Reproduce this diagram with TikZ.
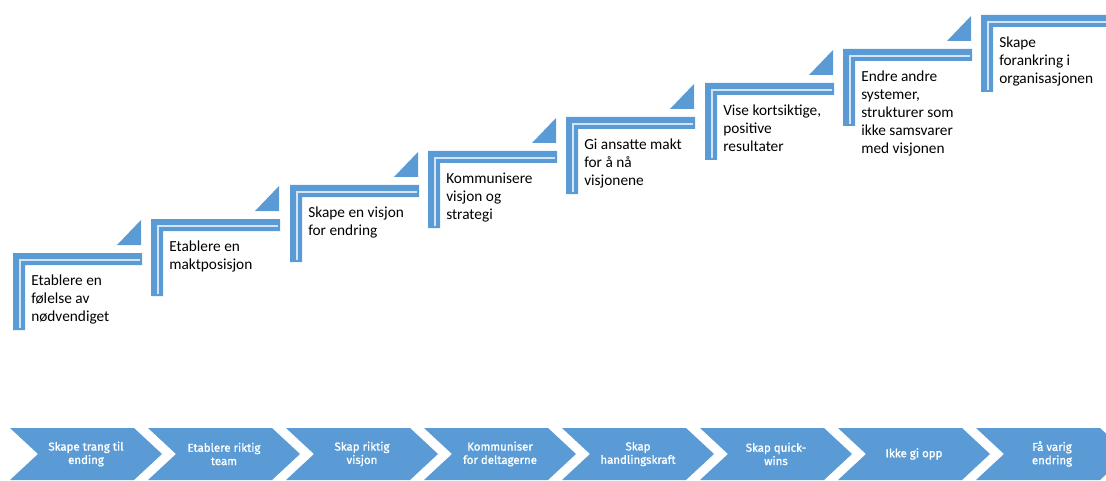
\documentclass[tikz,border=0pt]{standalone}
\usepackage{fontspec}
\setmainfont{Carlito}
\newfontfamily\pilfont[FakeBold=1.2]{Fira Sans}
\definecolor{trinnblaa}{HTML}{5B9BD5}
\definecolor{trinnlys}{HTML}{D2E4F5}
\definecolor{pilblaa}{HTML}{5B9BD5}

\begin{document}
\begin{tikzpicture}[x=0.75pt,y=-0.75pt]
\tikzstyle{trinn}=[fill=trinnblaa]
\tikzstyle{lys}=[draw=trinnlys,line width=2pt,line join=miter]
\tikzstyle{tekst}=[anchor=north west,inner sep=0pt,align=left,font=\fontsize{11.5pt}{13.5pt}\selectfont]
\tikzstyle{pil}=[fill=pilblaa]
\tikzstyle{piltekst}=[text=white,inner sep=0pt,align=center,font=\pilfont\fontsize{8.6pt}{10pt}\selectfont]
	\useasboundingbox (0,0) rectangle (1106,481);

	% trappetrinn
	\fill[trinn] (13,253) -- ++(129,0) -- ++(0,12) -- ++(-117,0) -- ++(0,65) -- ++(-12,0) -- cycle;
	\draw[lys] (20,328) -- ++(0,-68) -- ++(120,0);
	\fill[trinn] (117,245) -- ++(24,0) -- ++(0,-25) -- cycle;

	\fill[trinn] (151,219) -- ++(129,0) -- ++(0,12) -- ++(-117,0) -- ++(0,65) -- ++(-12,0) -- cycle;
	\draw[lys] (158,294) -- ++(0,-68) -- ++(120,0);
	\fill[trinn] (255,211) -- ++(24,0) -- ++(0,-25) -- cycle;

	\fill[trinn] (290,185) -- ++(129,0) -- ++(0,12) -- ++(-117,0) -- ++(0,65) -- ++(-12,0) -- cycle;
	\draw[lys] (297,260) -- ++(0,-68) -- ++(120,0);
	\fill[trinn] (394,177) -- ++(24,0) -- ++(0,-25) -- cycle;

	\fill[trinn] (428,151) -- ++(129,0) -- ++(0,12) -- ++(-117,0) -- ++(0,65) -- ++(-12,0) -- cycle;
	\draw[lys] (435,226) -- ++(0,-68) -- ++(120,0);
	\fill[trinn] (532,143) -- ++(24,0) -- ++(0,-25) -- cycle;

	\fill[trinn] (566,117) -- ++(129,0) -- ++(0,12) -- ++(-117,0) -- ++(0,65) -- ++(-12,0) -- cycle;
	\draw[lys] (573,192) -- ++(0,-68) -- ++(120,0);
	\fill[trinn] (670,109) -- ++(24,0) -- ++(0,-25) -- cycle;

	\fill[trinn] (705,83) -- ++(129,0) -- ++(0,12) -- ++(-117,0) -- ++(0,65) -- ++(-12,0) -- cycle;
	\draw[lys] (712,158) -- ++(0,-68) -- ++(120,0);
	\fill[trinn] (809,75) -- ++(24,0) -- ++(0,-25) -- cycle;

	\fill[trinn] (843,49) -- ++(129,0) -- ++(0,12) -- ++(-117,0) -- ++(0,65) -- ++(-12,0) -- cycle;
	\draw[lys] (850,124) -- ++(0,-68) -- ++(120,0);
	\fill[trinn] (947,41) -- ++(24,0) -- ++(0,-25) -- cycle;

	\fill[trinn] (981,15) -- ++(129,0) -- ++(0,12) -- ++(-117,0) -- ++(0,65) -- ++(-12,0) -- cycle;
	\draw[lys] (988,90) -- ++(0,-68) -- ++(120,0);

	\node[tekst] (s1) at (31,275) {Etablere en\\følelse av\\nødvendiget};
	\node[tekst] (s2) at (169,241) {Etablere en\\maktposisjon};
	\node[tekst] (s3) at (308,207) {Skape en visjon\\for endring};
	\node[tekst] (s4) at (446,173) {Kommunisere\\visjon og\\strategi};
	\node[tekst] (s5) at (584,139) {Gi ansatte makt\\for å nå\\visjonene};
	\node[tekst] (s6) at (723,105) {Vise kortsiktige,\\positive\\resultater};
	\node[tekst] (s7) at (861,71) {Endre andre\\systemer,\\strukturer som\\ikke samsvarer\\med visjonen};
	\node[tekst] (s8) at (999,37) {Skape\\forankring i\\organisasjonen};

	% piler nederst
	\fill[pil] (10,428) -- ++(124,0) -- ++(28,26) -- ++(-28,26) -- ++(-124,0) -- ++(28,-26) -- cycle;
	\fill[pil] (148,428) -- ++(124,0) -- ++(28,26) -- ++(-28,26) -- ++(-124,0) -- ++(28,-26) -- cycle;
	\fill[pil] (286,428) -- ++(124,0) -- ++(28,26) -- ++(-28,26) -- ++(-124,0) -- ++(28,-26) -- cycle;
	\fill[pil] (424,428) -- ++(124,0) -- ++(28,26) -- ++(-28,26) -- ++(-124,0) -- ++(28,-26) -- cycle;
	\fill[pil] (562,428) -- ++(124,0) -- ++(28,26) -- ++(-28,26) -- ++(-124,0) -- ++(28,-26) -- cycle;
	\fill[pil] (700,428) -- ++(124,0) -- ++(28,26) -- ++(-28,26) -- ++(-124,0) -- ++(28,-26) -- cycle;
	\fill[pil] (838,428) -- ++(124,0) -- ++(28,26) -- ++(-28,26) -- ++(-124,0) -- ++(28,-26) -- cycle;
	\fill[pil] (976,428) -- ++(124,0) -- ++(28,26) -- ++(-28,26) -- ++(-124,0) -- ++(28,-26) -- cycle;

	\node[piltekst] (p1) at (86,454) {Skape trang til\\ending};
	\node[piltekst] (p2) at (224,454) {Etablere riktig\\team};
	\node[piltekst] (p3) at (362,454) {Skap riktig\\visjon};
	\node[piltekst] (p4) at (500,454) {Kommuniser\\for deltagerne};
	\node[piltekst] (p5) at (638,454) {Skap\\handlingskraft};
	\node[piltekst] (p6) at (776,454) {Skap quick-\\wins};
	\node[piltekst] (p7) at (914,454) {Ikke gi opp};
	\node[piltekst] (p8) at (1052,454) {Få varig\\endring};
\end{tikzpicture}
\end{document}
